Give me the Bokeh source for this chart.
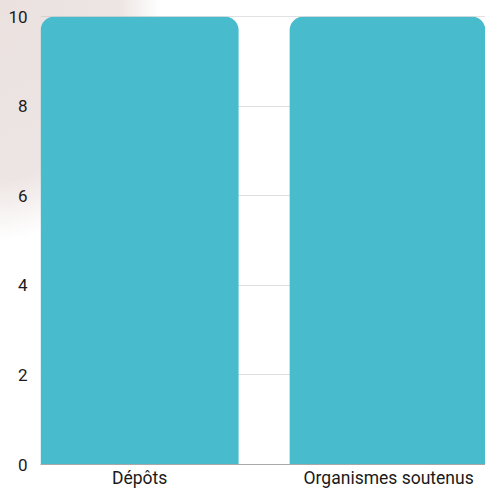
from bokeh.plotting import figure
from bokeh.models import FixedTicker, Range1d, Span
from bokeh.embed import file_html
from bokeh.resources import INLINE

categories = ["Dépôts", "Organismes soutenus"]
values = [10, 10]
xpos = [0, 1]
y_ticks = [0, 2, 4, 6, 8, 10]

p = figure(width=485, height=490, output_backend="svg", toolbar_location=None,
           x_range=Range1d(-0.398, 1.389), y_range=Range1d(0, 10),
           min_border_left=40, min_border_right=0, min_border_top=16, min_border_bottom=26)

p.background_fill_color = None
p.border_fill_color = None
p.outline_line_color = None
p.styles = {"background-image": "radial-gradient(ellipse 160px 240px at 0px 0px, #ebe2e0 0%, #ede5e3 75%, rgba(255,255,255,0) 100%)",
            "background-color": "white"}

p.vbar(x=xpos, top=values, bottom=0, width=0.795, fill_color="#48BBCC", line_color=None,
       border_radius=(14, 14, 0, 0))

p.xgrid.grid_line_color = None
p.ygrid.grid_line_color = "#dedede"
p.ygrid.ticker = FixedTicker(ticks=y_ticks)
p.ygrid.level = "underlay"
p.add_layout(Span(location=max(y_ticks), dimension="width", line_color="#c4c4c4", line_width=1, level="overlay"))

p.yaxis.ticker = FixedTicker(ticks=y_ticks)
p.yaxis.axis_line_color = None
p.yaxis.major_tick_line_color = None
p.yaxis.minor_tick_line_color = None
p.yaxis.major_tick_out = 0
p.yaxis.major_tick_in = 0
p.yaxis.major_label_standoff = 13
p.yaxis.major_label_text_font = "Roboto"
p.yaxis.major_label_text_font_size = "17px"
p.yaxis.major_label_text_color = "#1a1a1a"

p.xaxis.ticker = FixedTicker(ticks=xpos)
p.xaxis.major_label_overrides = {0: categories[0], 1: categories[1]}
p.xaxis.axis_line_color = "#a8a8a8"
p.xaxis.major_tick_line_color = None
p.xaxis.minor_tick_line_color = None
p.xaxis.major_tick_out = 0
p.xaxis.major_tick_in = 0
p.xaxis.major_label_standoff = 3
p.xaxis.major_label_text_font = "Roboto"
p.xaxis.major_label_text_font_size = "17.5px"
p.xaxis.major_label_text_color = "#1a1a1a"

open("out.html", "w").write(file_html(p, INLINE))
